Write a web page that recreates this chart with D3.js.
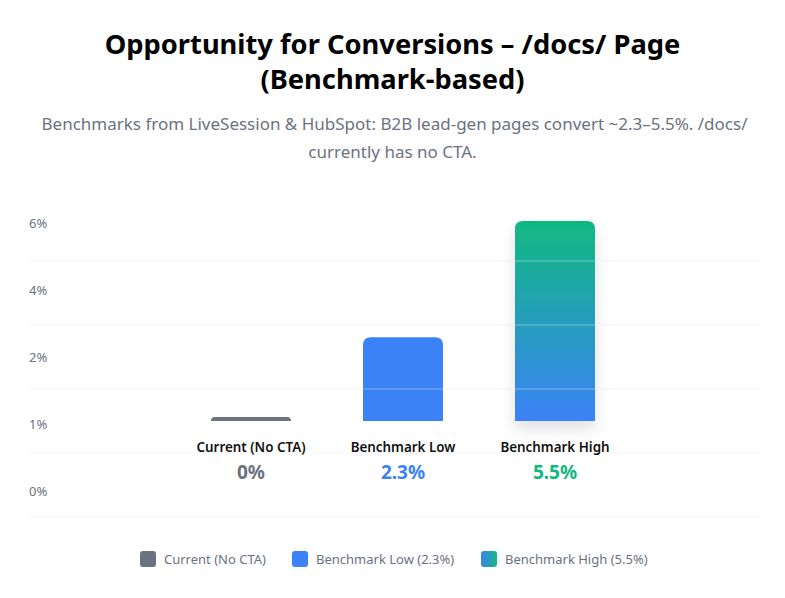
<!DOCTYPE html>
<html>
<head>
<meta charset="utf-8">
<script src="https://cdn.jsdelivr.net/npm/d3@7"></script>
<style>
  html, body { margin: 0; padding: 0; background: #fff; }
  svg { display: block; font-family: "Noto Sans", "Open Sans", sans-serif; }
</style>
</head>
<body>
<svg id="chart" width="785" height="598"></svg>
<script>
/* Conversion opportunity bars: current vs benchmark low/high */
const categories = ["Current (No CTA)", "Benchmark Low", "Benchmark High"];
const values = [0, 2.3, 5.5];
const valueLabels = ["0%", "2.3%", "5.5%"];
const tickLabels = ["6%", "4%", "2%", "1%", "0%"];
const legendLabels = ["Current (No CTA)", "Benchmark Low (2.3%)", "Benchmark High (5.5%)"];

(function () {
  const svg = d3.select("#chart");
  const W = 785;
  const GRAY = "#6b7280", BLUE = "#3b82f6", GREEN = "#10b981";
  const colors = [GRAY, BLUE, GREEN];

  // 1) defs: gradients + shadow
  const defs = svg.append("defs");
  const vg = defs.append("linearGradient").attr("id", "gradV")
    .attr("x1", 0).attr("y1", 0).attr("x2", 0).attr("y2", 1);
  vg.append("stop").attr("offset", "0%").attr("stop-color", GREEN);
  vg.append("stop").attr("offset", "100%").attr("stop-color", BLUE);
  const hg = defs.append("linearGradient").attr("id", "gradH")
    .attr("x1", 0).attr("y1", 0).attr("x2", 1).attr("y2", 0);
  hg.append("stop").attr("offset", "0%").attr("stop-color", BLUE);
  hg.append("stop").attr("offset", "100%").attr("stop-color", GREEN);
  const sh = defs.append("filter").attr("id", "shadow")
    .attr("x", "-50%").attr("y", "-20%").attr("width", "200%").attr("height", "150%");
  sh.append("feDropShadow").attr("dx", 0).attr("dy", 8).attr("stdDeviation", 8)
    .attr("flood-color", "#000").attr("flood-opacity", 0.12);

  // 2) Title + subtitle
  const title = svg.append("text").attr("text-anchor", "middle")
    .attr("font-size", 27.3).attr("font-weight", 700).attr("fill", "#000");
  title.append("tspan").attr("x", W / 2).attr("y", 54).text("Opportunity for Conversions – /docs/ Page");
  title.append("tspan").attr("x", W / 2).attr("y", 89).text("(Benchmark-based)");

  const sub = svg.append("text").attr("text-anchor", "middle")
    .attr("font-size", 17).attr("fill", GRAY);
  sub.append("tspan").attr("x", W / 2 + 2).attr("y", 130)
    .text("Benchmarks from LiveSession & HubSpot: B2B lead-gen pages convert ~2.3–5.5%. /docs/");
  sub.append("tspan").attr("x", W / 2).attr("y", 158).text("currently has no CTA.");

  // 3) Scales
  const x = d3.scalePoint().domain(categories).range([251, 555]);
  const barW = 80;
  const baseY = 421;
  const h = d3.scaleLinear().domain([0, d3.max(values)]).range([0, 200]);
  const yLab = d3.scalePoint().domain(tickLabels).range([223, 491]);
  const yGrid = d3.scalePoint().domain(tickLabels).range([261, 517]);

  // 4) Y tick labels
  svg.append("g").selectAll("text")
    .data(tickLabels).join("text")
    .attr("x", 29).attr("y", d => yLab(d)).attr("dy", "0.35em")
    .attr("font-size", 13).attr("fill", GRAY).text(d => d);

  // 5) Bars (rounded top corners)
  function topRounded(cx, top, w, ht, r) {
    r = Math.min(r, ht, w / 2);
    const l = cx - w / 2, rr = cx + w / 2, b = top + ht;
    return `M${l},${b}V${top + r}Q${l},${top} ${l + r},${top}H${rr - r}Q${rr},${top} ${rr},${top + r}V${b}Z`;
  }
  const bars = categories.map((c, i) => ({ c, v: values[i], i }));
  svg.append("g").selectAll("path")
    .data(bars).join("path")
    .attr("d", d => {
      const ht = Math.max(4, h(d.v));
      return topRounded(x(d.c), baseY - ht, barW, ht, 8);
    })
    .attr("fill", d => d.i === 2 ? "url(#gradV)" : colors[d.i])
    .attr("filter", d => d.i === 2 ? "url(#shadow)" : null);

  // 6) Gridlines (drawn over the bars, semi-transparent)
  svg.append("g").selectAll("line")
    .data(tickLabels).join("line")
    .attr("x1", 29).attr("x2", 759)
    .attr("y1", d => yGrid(d)).attr("y2", d => yGrid(d))
    .attr("stroke", "#e5e7eb").attr("stroke-opacity", 0.45).attr("stroke-width", 1);

  // 7) Category + value labels
  svg.append("g").selectAll("text")
    .data(bars).join("text")
    .attr("x", d => x(d.c)).attr("y", 452)
    .attr("text-anchor", "middle").attr("font-size", 13.4).attr("font-weight", 600)
    .attr("fill", "#111").text(d => d.c);
  svg.append("g").selectAll("text")
    .data(bars).join("text")
    .attr("x", d => x(d.c)).attr("y", 479)
    .attr("text-anchor", "middle").attr("font-size", 19).attr("font-weight", 700)
    .attr("fill", d => colors[d.i]).text(d => valueLabels[d.i]);

  // 8) Legend
  const legX = [140, 292, 481];
  const leg = svg.append("g").selectAll("g")
    .data(legendLabels).join("g")
    .attr("transform", (d, i) => `translate(${legX[i]},551)`);
  leg.append("rect").attr("width", 16).attr("height", 16).attr("rx", 3)
    .attr("fill", (d, i) => i === 2 ? "url(#gradH)" : colors[i]);
  leg.append("text").attr("x", 24).attr("y", 8).attr("dy", "0.35em")
    .attr("font-size", 13).attr("fill", GRAY).text(d => d);
})();
</script>
</body>
</html>
